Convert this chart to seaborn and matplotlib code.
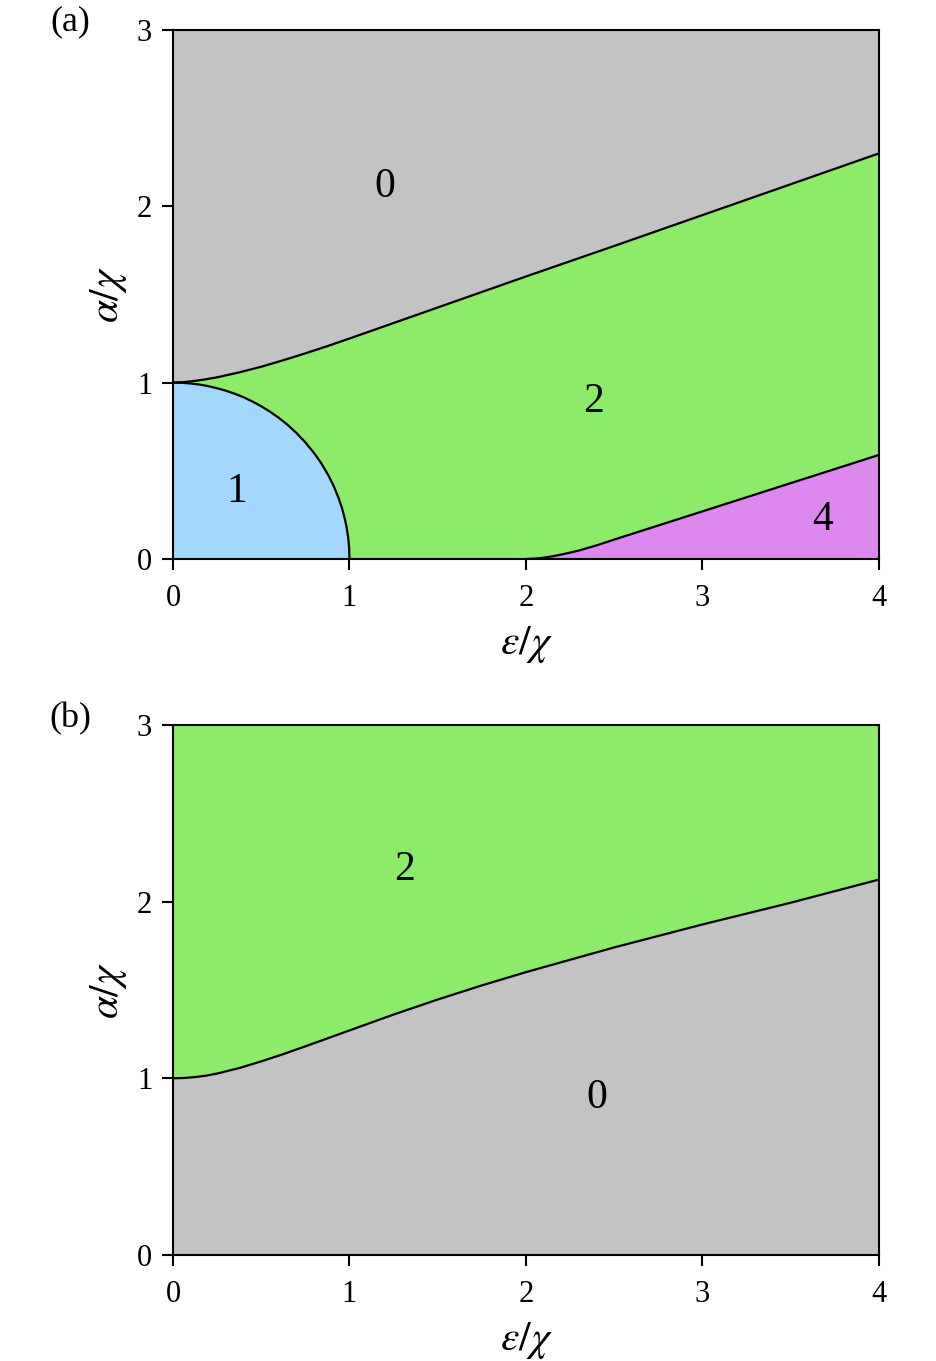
import numpy as np
import seaborn as sns
import matplotlib.pyplot as plt

# boundary curves read from the reference
# panel (a): upper boundary between phase 0 and phase 2
eps_a_up = [0, 0.0625, 0.125, 0.1875, 0.25, 0.375, 0.5, 0.625, 0.75, 0.875, 1.0, 1.25, 1.5,
            1.75, 2.0, 2.5, 3.0, 3.5, 4.0]
alpha_a_up = [1.0, 1.003, 1.01, 1.019, 1.03, 1.058, 1.09, 1.127, 1.166, 1.207, 1.25, 1.338, 1.426,
              1.514, 1.602, 1.775, 1.95, 2.125, 2.30]
# panel (a): quarter circle bounding phase 1
eps_circ = [0, 0.05, 0.1, 0.15, 0.2, 0.25, 0.3, 0.35, 0.4, 0.45, 0.5, 0.55, 0.6, 0.65, 0.7, 0.75,
            0.8, 0.84, 0.88, 0.91, 0.94, 0.96, 0.975, 0.985, 0.993, 0.998, 1.0]
alpha_circ = [1.0, 0.999, 0.995, 0.989, 0.98, 0.968, 0.954, 0.937, 0.917, 0.893, 0.866, 0.835,
              0.8, 0.76, 0.714, 0.661, 0.6, 0.543, 0.475, 0.415, 0.341, 0.28, 0.222, 0.173,
              0.118, 0.063, 0.0]
# panel (a): lower boundary of phase 4
eps_a_lo = [2.0, 2.05, 2.1, 2.15, 2.2, 2.25, 2.3, 2.4, 2.5, 2.625, 2.75, 2.875, 3.0, 3.25, 3.5,
            3.75, 4.0]
alpha_a_lo = [0.0, 0.002, 0.007, 0.015, 0.025, 0.036, 0.048, 0.077, 0.11, 0.15, 0.19, 0.23,
              0.27, 0.35, 0.43, 0.51, 0.59]
# panel (b): boundary between phase 2 and phase 0
eps_b = [0, 0.0625, 0.125, 0.1875, 0.25, 0.375, 0.5, 0.625, 0.75, 0.875, 1.0, 1.25, 1.5, 1.75,
         2.0, 2.5, 3.0, 3.5, 4.0]
alpha_b = [1.0, 1.002, 1.007, 1.015, 1.027, 1.058, 1.096, 1.137, 1.181, 1.226, 1.271, 1.361, 1.446,
           1.526, 1.601, 1.741, 1.871, 1.994, 2.125]

labels_a = [("0", 1.20, 2.11), ("2", 2.385, 0.89), ("1", 0.36, 0.38), ("4", 3.68, 0.22)]
labels_b = [("2", 1.31, 2.18), ("0", 2.40, 0.89)]
xticks = [0, 1, 2, 3, 4]
yticks = [0, 1, 2, 3]

grey = "#c2c3c2"
green = "#8ceb68"
blue = "#a3d7fe"
violet = "#dd88ee"

sns.set_style("ticks")
plt.rcParams["font.family"] = ["Liberation Serif", "DejaVu Serif"]
plt.rcParams["mathtext.fontset"] = "stix"
plt.rcParams["text.color"] = "black"
plt.rcParams["axes.labelcolor"] = "black"
plt.rcParams["xtick.color"] = "black"
plt.rcParams["ytick.color"] = "black"
plt.rcParams["axes.edgecolor"] = "black"

fig = plt.figure(figsize=(9.36, 13.61), dpi=100)
ax1 = fig.add_axes([0.1848, 0.5893, 0.7543, 0.3887])
ax2 = fig.add_axes([0.1848, 0.0779, 0.7543, 0.3894])

# panel (a) regions
ax1.fill_between(eps_a_up, alpha_a_up, 3, color=grey, lw=0)
ax1.fill_between(eps_a_up, 0, alpha_a_up, color=green, lw=0)
ax1.fill_between(eps_circ, 0, alpha_circ, color=blue, lw=0)
ax1.fill_between(eps_a_lo, 0, alpha_a_lo, color=violet, lw=0)
for xs, ys in [(eps_a_up, alpha_a_up), (eps_circ, alpha_circ), (eps_a_lo, alpha_a_lo)]:
    sns.lineplot(x=xs, y=ys, color="black", lw=1.6, ax=ax1)
for t, x, y in labels_a:
    ax1.text(x, y, t, fontsize=30, ha="center", va="center")

# panel (b) regions
ax2.fill_between(eps_b, alpha_b, 3, color=green, lw=0)
ax2.fill_between(eps_b, 0, alpha_b, color=grey, lw=0)
sns.lineplot(x=eps_b, y=alpha_b, color="black", lw=1.6, ax=ax2)
for t, x, y in labels_b:
    ax2.text(x, y, t, fontsize=30, ha="center", va="center")

for ax in (ax1, ax2):
    ax.set_xlim(0, 4)
    ax.set_ylim(0, 3)
    ax.set_xticks(xticks)
    ax.set_yticks(yticks)
    ax.tick_params(direction="out", length=8, width=1.5, labelsize=22)
    ax.tick_params(axis="x", pad=10)
    ax.tick_params(axis="y", pad=7)
    for s in ax.spines.values():
        s.set_linewidth(1.5)
        s.set_visible(True)
    ax.set_xlabel(r"$\varepsilon/\chi$", fontsize=30, labelpad=8)
    ax.set_ylabel(r"$\alpha/\chi$", fontsize=30, labelpad=6)

fig.text(0.075, 0.984, "(a)", fontsize=26, ha="center", va="center")
fig.text(0.075, 0.472, "(b)", fontsize=26, ha="center", va="center")

fig.savefig("out.png", dpi=100)
